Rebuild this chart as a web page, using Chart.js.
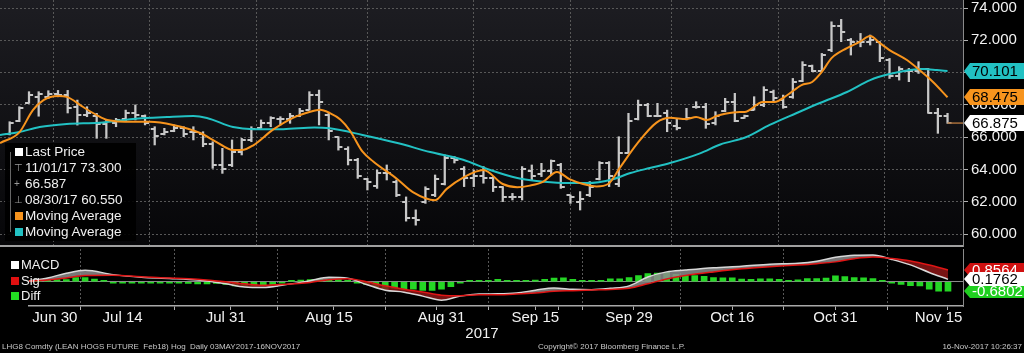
<!DOCTYPE html>
<html>
<head>
<meta charset="utf-8">
<script src="https://cdn.jsdelivr.net/npm/chart.js@4.4.1/dist/chart.umd.min.js"></script>
<style>
html, body { margin: 0; padding: 0; background: #000; width: 1024px; height: 353px; overflow: hidden; font-family: "Liberation Sans", Arial, sans-serif; }
#wrap { position: relative; width: 1024px; height: 353px; }
#price { position: absolute; left: 0; top: 0; }
#macd { position: absolute; left: 0; top: 248px; }
.lg { position: absolute; color: #f0f0f0; white-space: nowrap; }
.lg .row { position: relative; height: 16px; line-height: 16px; padding-left: 20px; }
.lg .sq { position: absolute; left: 10px; top: 4px; width: 8px; height: 8px; }
.lg .sym { position: absolute; left: 9px; top: 0; font-size: 10px; color: #999; }
#plegend { left: 5px; top: 143px; width: 131px; height: 98px; background: rgba(0,0,0,0.92); font-size: 13.5px; }
#plegend .tree { position: absolute; left: 5px; top: 9px; width: 1px; height: 80px; background: #666; }
#mlegend { left: 1px; top: 257px; font-size: 13px; }
#mlegend .row { height: 15.5px; line-height: 15.5px; }
#mlegend .sq { top: 4px; }
.foot { position: absolute; top: 342px; font-size: 8px; line-height: 10px; color: #c8c8c8; white-space: nowrap; }
#year { position: absolute; left: 462px; top: 325px; width: 40px; text-align: center; font-size: 15px; line-height: 16px; color: #f0f0f0; }
</style>
</head>
<body>
<div id="wrap">
  <canvas id="price" width="1024" height="248"></canvas>
  <canvas id="macd" width="1024" height="105"></canvas>
  <div id="plegend" class="lg">
    <div class="tree"></div>
    <div class="row" style="margin-top:1px"><span class="sq" style="background:#fff"></span>Last Price</div>
    <div class="row"><span class="sym">&#8868;</span>11/01/17 73.300</div>
    <div class="row"><span class="sym">+</span>66.587</div>
    <div class="row"><span class="sym">&#8869;</span>08/30/17 60.550</div>
    <div class="row"><span class="sq" style="background:#f7941d"></span>Moving Average</div>
    <div class="row"><span class="sq" style="background:#22c1c3"></span>Moving Average</div>
  </div>
  <div id="mlegend" class="lg">
    <div class="row"><span class="sq" style="background:#fff"></span>MACD</div>
    <div class="row"><span class="sq" style="background:#e01010"></span>Sig</div>
    <div class="row"><span class="sq" style="background:#22dd22"></span>Diff</div>
  </div>
  <div id="year">2017</div>
  <div class="foot" style="left:2px">LHG8 Comdty (LEAN HOGS FUTURE&nbsp; Feb18) Hog&nbsp; Daily 03MAY2017-16NOV2017</div>
  <div class="foot" style="left:538px">Copyright&copy; 2017 Bloomberg Finance L.P.</div>
  <div class="foot" style="right:2px">16-Nov-2017 10:26:37</div>
</div>
<script>
// trading days shown on the chart
const dates = ['Jun 29','Jun 30','Jul 3','Jul 5','Jul 6','Jul 7','Jul 10','Jul 11','Jul 12','Jul 13','Jul 14','Jul 17','Jul 18','Jul 19','Jul 20','Jul 21','Jul 24','Jul 25','Jul 26','Jul 27','Jul 28','Jul 31','Aug 1','Aug 2','Aug 3','Aug 4','Aug 7','Aug 8','Aug 9','Aug 10','Aug 11','Aug 14','Aug 15','Aug 16','Aug 17','Aug 18','Aug 21','Aug 22','Aug 23','Aug 24','Aug 25','Aug 28','Aug 29','Aug 30','Aug 31','Sep 1','Sep 5','Sep 6','Sep 7','Sep 8','Sep 11','Sep 12','Sep 13','Sep 14','Sep 15','Sep 18','Sep 19','Sep 20','Sep 21','Sep 22','Sep 25','Sep 26','Sep 27','Sep 28','Sep 29','Oct 2','Oct 3','Oct 4','Oct 5','Oct 6','Oct 9','Oct 10','Oct 11','Oct 12','Oct 13','Oct 16','Oct 17','Oct 18','Oct 19','Oct 20','Oct 23','Oct 24','Oct 25','Oct 26','Oct 27','Oct 30','Oct 31','Nov 1','Nov 2','Nov 3','Nov 6','Nov 7','Nov 8','Nov 9','Nov 10','Nov 13','Nov 14','Nov 15','Nov 16'];

const tickLabels = ['Jun 30','Jul 14','Jul 31','Aug 15','Aug 31','Sep 15','Sep 29','Oct 16','Oct 31','Nov 15'];
const minorTickDates = ['Jul 24','Aug 8','Aug 23','Sep 8','Sep 22','Oct 9','Oct 23','Nov 8'];
const priceTicks = [60,61,62,63,64,65,66,67,68,69,70,71,72,73,74];

// OHLC
const openPx = [null,66.2,67.0,68.1,68.5,68.5,68.7,68.6,67.9,67.4,
  67.3,66.8,66.9,67.1,67.5,67.3,66.5,66.2,66.4,66.6,
  66.3,66.2,65.6,64.3,64.3,65.1,65.8,66.6,66.9,67.1,
  67.1,67.3,67.7,68.6,67.4,66.0,65.3,64.6,63.4,63.0,
  63.8,63.2,62.0,61.0,62.0,62.4,63.1,64.7,64.0,63.5,
  63.6,63.5,62.9,62.3,62.3,63.9,63.7,63.9,64.3,62.4,
  62.0,62.4,63.4,64.4,63.1,65.0,67.1,68.0,67.3,67.5,
  66.7,67.1,67.9,67.9,66.9,67.6,68.2,67.2,67.7,68.0,
  68.8,68.3,68.5,69.5,70.4,70.1,71.4,72.9,72.0,71.9,
  71.9,71.9,70.8,69.8,70.1,70.1,70.2,67.5,67.3];
const highPx = [null,66.96,67.89,68.82,68.82,68.88,68.9,68.9,68.3,67.89,
  67.48,67.07,67.17,67.68,68.0,67.38,66.65,66.55,66.76,66.65,
  66.65,66.34,65.72,65.31,65.83,65.93,66.65,67.07,67.27,67.27,
  67.48,67.79,68.82,68.92,67.48,66.03,65.41,64.69,63.45,63.97,
  64.28,63.35,62.3,61.5,62.93,63.66,64.9,64.8,64.18,63.97,
  64.18,63.56,62.94,62.52,64.18,64.28,64.38,64.59,64.38,62.42,
  62.63,63.25,64.49,64.49,66.03,67.48,68.3,68.1,68.1,67.68,
  67.17,67.79,68.2,68.1,67.58,68.41,68.72,67.37,68.51,69.13,
  68.92,68.61,69.64,70.68,70.47,71.19,73.15,73.3,72.12,72.43,
  72.33,71.92,70.88,70.37,70.26,70.68,70.26,67.79,67.48];
const lowPx = [null,66.14,66.96,68.1,67.3,68.4,68.5,67.5,66.75,67.27,
  65.93,65.93,66.65,66.96,67.07,66.76,65.52,66.14,66.34,66.03,
  65.83,65.41,64.07,63.76,64.18,64.9,65.72,66.55,66.65,66.76,
  66.86,67.27,67.68,66.76,65.83,65.2,64.28,63.45,62.73,62.83,
  63.35,62.32,60.8,60.55,61.9,62.32,63.04,64.4,62.94,62.94,
  63.15,62.63,62.01,62.11,62.11,63.35,63.56,63.66,62.83,61.9,
  61.49,62.32,63.35,62.94,62.94,65.0,67.07,67.27,67.27,66.34,
  66.45,67.07,67.79,66.55,66.76,67.58,66.96,67.17,67.68,67.89,
  68.2,67.79,68.41,69.44,70.06,70.06,71.3,71.92,71.09,71.6,
  71.71,70.68,69.64,69.54,69.44,69.95,67.48,66.24,66.86];
const closePx = [null,66.9,67.8,68.6,68.7,68.7,68.6,67.8,67.4,67.5,
  66.8,67.0,67.05,67.5,67.4,66.9,66.1,66.3,66.6,66.2,
  66.3,65.6,64.3,64.0,65.1,65.8,66.5,66.9,67.2,67.1,
  67.3,67.6,68.6,68.2,66.4,65.4,64.6,63.6,63.2,63.8,
  63.8,62.4,61.0,60.9,62.8,63.4,64.7,64.6,63.5,63.6,
  63.5,62.9,62.3,62.3,64.0,63.6,63.9,64.5,62.9,62.3,
  62.2,62.9,64.4,63.6,65.0,67.0,68.0,67.3,67.3,66.9,
  66.6,67.2,67.9,66.8,67.3,68.2,67.0,67.3,68.0,68.9,
  68.4,67.9,69.4,70.5,70.1,71.1,72.9,72.5,71.9,71.9,
  72.0,70.9,69.8,70.2,70.1,70.2,67.5,67.3,66.875];

// moving averages (day position, value)
const maFastX = [0,2,3.4,4.5,6,6.9,8.6,10,11.1,13.75,15.5,17.9,20.7,22.4,24.1,25,26.2,28.2,30.3,32,33.1,34.1,35.2,36.2,37.5,38.6,41.1,42.7,45,46.2,47.9,50,52,53.5,54.8,56.2,57.6,58.9,60.3,61.7,62.9,64.1,65.9,67.9,69.3,71,72,73.1,74.1,75,76.5,77,78.9,80.1,81.4,82.9,84,85,86,87.6,88.9,90,91,92,93.8,95.1,96.5,98];
const maFast = [65.64,66.3,67.68,68.3,68.55,68.5,67.87,67.37,67.07,66.95,66.95,66.76,66.26,65.7,65.2,65.2,65.5,66.45,67.2,67.56,67.7,67.5,67.1,66.4,65.1,64.5,63.4,62.6,62.1,62.8,63.5,63.97,63.1,62.9,63.0,63.25,63.85,63.4,63.1,62.95,63.1,64.1,65.6,66.9,67.2,67.13,67.25,67.07,67.31,67.45,67.56,67.56,68.18,68.18,68.6,69.23,69.42,70.04,70.9,71.52,71.9,72.27,71.83,71.4,70.78,70.16,69.42,68.475];
const maSlowX = [0,2,4.1,6.9,10.3,13.75,17.3,20,21.4,24.1,26.2,29.3,32.5,34.1,37.5,41.1,44.5,47.9,50.7,53.5,55.5,58.2,60.7,63.4,65.2,67.2,69.3,72.4,74.5,77.2,79.6,82.4,84.8,87.6,90,92,94.1,95.5,96.9,98];
const maSlow = [66.14,66.32,66.63,66.82,66.9,67.13,67.25,67.31,67.19,66.63,66.5,66.5,66.6,66.55,66.14,65.64,65.08,64.6,63.97,63.47,63.29,63.17,63.16,63.4,63.78,64.09,64.4,65.0,65.55,66.01,66.76,67.5,68.12,68.8,69.54,69.91,70.16,70.22,70.16,70.101];

// MACD panel
const macdX = [0,2,4,6,9,12,15,18,21,23,25,27,30,32,34,36,38,40,42,44,46,48,50,52,54,56,58,60,62,64,66,68,70,73,76,79,82,84,86,88,90,92,94,96,98];
const macdLine = [0.05,0.28,0.62,0.84,0.52,0.33,0.24,0.12,-0.15,-0.38,-0.42,-0.26,0.08,0.32,0.25,-0.2,-0.62,-0.76,-1.05,-1.35,-1.05,-0.9,-0.88,-0.82,-0.62,-0.45,-0.55,-0.58,-0.48,-0.3,0.35,0.72,0.85,1.02,1.13,1.28,1.35,1.5,1.78,1.94,1.96,1.63,1.23,0.68,0.1762];
const sigLine = [0.05,0.12,0.28,0.45,0.48,0.36,0.28,0.18,0.0,-0.15,-0.25,-0.2,-0.05,0.15,0.22,0.0,-0.3,-0.55,-0.75,-0.98,-1.02,-0.95,-0.95,-0.9,-0.82,-0.7,-0.65,-0.6,-0.56,-0.48,-0.15,0.2,0.45,0.72,0.95,1.1,1.22,1.32,1.45,1.68,1.8,1.7,1.52,1.22,0.8564];
const diffBars = [0.05,0.05,0.1,0.15,0.15,0.3,0.3,0.2,0.05,-0.03,
  -0.03,-0.03,-0.03,-0.03,-0.03,-0.07,-0.1,-0.12,-0.15,-0.15,
  -0.12,-0.2,-0.3,-0.3,-0.3,-0.25,-0.2,-0.1,0.05,0.12,
  0.15,0.2,0.2,0.15,0.02,-0.1,-0.2,-0.36,-0.48,-0.48,
  -0.55,-0.55,-0.64,-0.64,-0.55,-0.36,-0.02,0.02,0.02,0.05,
  0.17,0.02,0.02,0.02,0.12,0.17,0.26,0.29,0.17,0.02,
  0.02,0.02,0.21,0.21,0.31,0.45,0.6,0.64,0.69,0.55,
  0.45,0.45,0.4,0.31,0.29,0.29,0.19,0.17,0.21,0.21,
  0.17,0.1,0.14,0.24,0.24,0.26,0.43,0.38,0.31,0.29,
  0.24,0.02,-0.07,-0.19,-0.29,-0.31,-0.55,-0.69,-0.6802];

const FONT = "'Liberation Sans', Arial, sans-serif";
const barColor = '#c8c8c8';
const orange = '#f7941d';
const teal = '#22c1c3';
const gridColor = '#585858';
const xMax = 99.6;

Chart.defaults.font.family = FONT;

const majorIdx = tickLabels.map(d => dates.indexOf(d));
const minorIdx = minorTickDates.map(d => dates.indexOf(d));
const last = arr => arr[arr.length - 1];

function tickImage(side) {
    let c = document.createElement('canvas');
    c.width = 10;
    c.height = 2;
    let g = c.getContext('2d');
    g.fillStyle = barColor;
    g.fillRect(side == 'left' ? 1 : 5, 0, 4, 2);
    return c;
}

const bgPlugin = {
    id: 'panelBg',
    beforeDraw: function(chart, args, opts) {
        let ctx = chart.ctx, a = chart.chartArea;
        ctx.save();
        ctx.fillStyle = '#000';
        ctx.fillRect(0, 0, chart.width, chart.height);
        if (opts.top) {
            let g = ctx.createLinearGradient(0, a.top, 0, a.bottom);
            g.addColorStop(0, opts.top);
            g.addColorStop(1, opts.bottom);
            ctx.fillStyle = g;
            ctx.fillRect(a.left, a.top, a.right - a.left, a.bottom - a.top);
        }
        ctx.restore();
    }
};

const calloutPlugin = {
    id: 'callouts',
    afterDraw: function(chart, args, opts) {
        let ctx = chart.ctx;
        let scale = chart.scales.y;
        let left = chart.chartArea.right;
        let h = opts.height;
        ctx.save();
        ctx.font = opts.font;
        ctx.textBaseline = 'middle';
        ctx.textAlign = 'left';
        opts.items.forEach(it => {
            let y = Math.round(scale.getPixelForValue(it.value));
            ctx.fillStyle = it.bg;
            ctx.beginPath();
            ctx.moveTo(left + 1, y);
            ctx.lineTo(left + 7, y - h / 2);
            ctx.lineTo(chart.width, y - h / 2);
            ctx.lineTo(chart.width, y + h / 2);
            ctx.lineTo(left + 7, y + h / 2);
            ctx.closePath();
            ctx.fill();
            ctx.fillStyle = it.fg;
            ctx.fillText(it.text, left + 9, y + 1);
        });
        ctx.restore();
    }
};

const xy = (xs, ys) => xs.map((x, i) => ({x: x, y: ys[i]}));
const days = dates.map((d, i) => i).filter(i => highPx[i] != null);

let priceChart = new Chart(document.getElementById('price'), {
    type: 'line',
    plugins: [bgPlugin, calloutPlugin],
    data: {
        datasets: [
            {
                type: 'bar',
                data: days.map(i => ({x: i, y: [lowPx[i], highPx[i]]})),
                backgroundColor: barColor,
                barThickness: 1.6,
                grouped: false,
                order: 5
            },
            {
                data: days.map(i => ({x: i, y: openPx[i]})),
                showLine: false,
                pointStyle: tickImage('left'),
                pointRadius: 3,
                order: 4
            },
            {
                data: days.map(i => ({x: i, y: closePx[i]})),
                showLine: false,
                pointStyle: tickImage('right'),
                pointRadius: 3,
                order: 4
            },
            {
                data: xy(maSlowX, maSlow),
                borderColor: teal,
                borderWidth: 2,
                pointRadius: 0,
                cubicInterpolationMode: 'monotone',
                order: 2
            },
            {
                data: xy(maFastX, maFast),
                borderColor: orange,
                borderWidth: 2,
                pointRadius: 0,
                cubicInterpolationMode: 'monotone',
                order: 1
            },
            {
                data: [{x: dates.length - 1, y: last(closePx)}, {x: xMax, y: last(closePx)}],
                borderColor: '#a86f3a',
                borderWidth: 1.5,
                pointRadius: 0,
                order: 3
            }
        ]
    },
    options: {
        responsive: false,
        animation: false,
        devicePixelRatio: 1,
        layout: { padding: 0, autoPadding: false },
        plugins: {
            legend: { display: false },
            tooltip: { enabled: false },
            panelBg: { top: '#1d1d22', bottom: '#060608' },
            callouts: {
                height: 16,
                font: '15px ' + FONT,
                items: [
                    { value: last(maSlow), text: last(maSlow).toFixed(3), bg: teal, fg: '#000' },
                    { value: last(maFast), text: last(maFast).toFixed(3), bg: orange, fg: '#000' },
                    { value: last(closePx), text: last(closePx).toFixed(3), bg: '#fff', fg: '#000' }
                ]
            }
        },
        scales: {
            x: {
                type: 'linear',
                min: 0,
                max: xMax,
                offset: false,
                afterBuildTicks: s => { s.ticks = majorIdx.map(v => ({value: v})); },
                afterFit: s => { s.height = 2; },
                ticks: { display: false },
                grid: { color: gridColor, drawTicks: false },
                border: { display: true, color: '#a0a0a0', width: 2, dash: [2, 2] }
            },
            y: {
                position: 'right',
                min: 59.26,
                max: 74.5,
                afterBuildTicks: s => { s.ticks = priceTicks.map(v => ({value: v})); },
                afterFit: s => {
                    s.width = 61;
                    s.paddingTop = 0;
                    s.paddingBottom = 0;
                },
                ticks: {
                    color: '#f2f2f2',
                    font: { size: 15 },
                    padding: 3,
                    callback: v => v % 2 == 0 ? v.toFixed(3) : ''
                },
                grid: {
                    color: c => (c.tick && c.tick.value % 2 == 0) ? gridColor : 'rgba(0,0,0,0)',
                    tickColor: '#b0b0b0',
                    tickLength: 5,
                    tickBorderDash: []
                },
                border: { color: '#8a8a8a', width: 1, dash: [2, 2] }
            }
        }
    }
});

let macdChart = new Chart(document.getElementById('macd'), {
    type: 'line',
    plugins: [bgPlugin, calloutPlugin],
    data: {
        datasets: [
            {
                type: 'bar',
                data: diffBars.map((v, i) => ({x: i, y: v})),
                backgroundColor: '#25d625',
                barThickness: 6,
                grouped: false,
                minBarLength: 1.5,
                order: 3
            },
            {
                data: xy(macdX, macdLine),
                borderColor: '#d8d8d8',
                borderWidth: 1.5,
                pointRadius: 0,
                cubicInterpolationMode: 'monotone',
                fill: { target: 2, above: 'rgba(140,140,140,0.85)', below: 'rgba(140,22,22,0.85)' },
                order: 1
            },
            {
                data: xy(macdX, sigLine),
                borderColor: '#e01515',
                borderWidth: 1.5,
                pointRadius: 0,
                cubicInterpolationMode: 'monotone',
                order: 0
            }
        ]
    },
    options: {
        responsive: false,
        animation: false,
        devicePixelRatio: 1,
        layout: { padding: { top: 1, left: 0, right: 0, bottom: 0 }, autoPadding: false },
        plugins: {
            legend: { display: false },
            tooltip: { enabled: false },
            panelBg: {},
            callouts: {
                height: 14,
                font: '15px ' + FONT,
                items: [
                    { value: last(sigLine), text: last(sigLine).toFixed(4), bg: '#d01010', fg: '#fff' },
                    { value: last(diffBars), text: last(diffBars).toFixed(4), bg: '#1fd01f', fg: '#fff' },
                    { value: last(macdLine), text: last(macdLine).toFixed(4), bg: '#fff', fg: '#000' }
                ]
            }
        },
        scales: {
            x: {
                type: 'linear',
                min: 0,
                max: xMax,
                offset: false,
                afterBuildTicks: s => { s.ticks = majorIdx.concat(minorIdx).map(v => ({value: v})); },
                afterFit: s => { s.height = 47; },
                ticks: {
                    color: '#f2f2f2',
                    font: { size: 15 },
                    padding: -1,
                    maxRotation: 0,
                    autoSkip: false,
                    callback: v => {
                        let k = majorIdx.indexOf(v);
                        if (k < 0) return '';
                        return k == 0 ? '        ' + tickLabels[k] : tickLabels[k];
                    }
                },
                grid: {
                    color: c => (c.tick && majorIdx.indexOf(c.tick.value) >= 0) ? gridColor : 'rgba(0,0,0,0)',
                    tickColor: '#b0b0b0',
                    tickLength: 4,
                    tickBorderDash: []
                },
                border: { color: '#a8a8a8', width: 1.5, dash: [2, 2] }
            },
            y: {
                position: 'right',
                min: -1.77,
                max: 2.39,
                afterBuildTicks: s => { s.ticks = [{value: 0}]; },
                afterFit: s => { s.width = 61; },
                ticks: { display: false },
                grid: { color: '#8a8a8a', drawTicks: false },
                border: { color: '#8a8a8a', width: 1, dash: [] }
            }
        }
    }
});
</script>
</body>
</html>
